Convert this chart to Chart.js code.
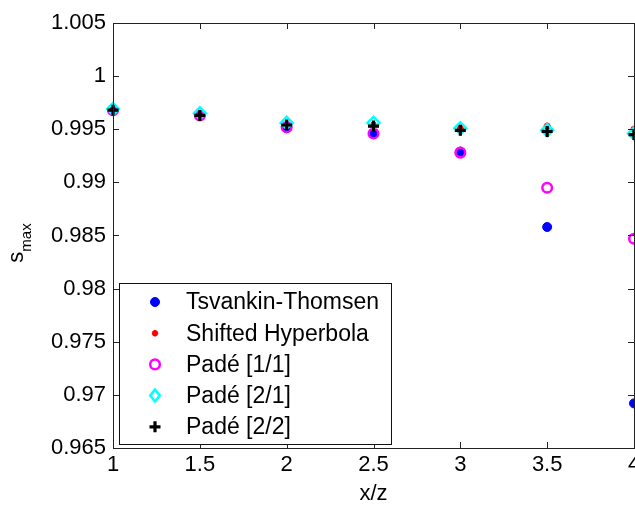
<!DOCTYPE html>
<html><head><meta charset="utf-8">
<script src="https://cdn.jsdelivr.net/npm/chart.js@4.4.1/dist/chart.umd.min.js"></script>
<style>html,body{margin:0;padding:0;background:#fff;overflow:hidden}</style>
</head><body>
<canvas id="c" width="635" height="509" style="display:block;width:635px;height:509px"></canvas>
<script>
// ---- data ----
const xValues = [1, 1.5, 2, 2.5, 3, 3.5, 4];
const tsvankinThomsen = [0.9968, 0.9963, 0.9951, 0.9946, 0.9929, 0.9858, 0.9692];
const shiftedHyperbola = [0.9968, 0.9964, 0.9954, 0.9954, 0.9951, 0.9953, 0.9950];
const pade11 = [0.9968, 0.9963, 0.9952, 0.9946, 0.9928, 0.9895, 0.9847];
const pade21 = [0.9969, 0.9965, 0.9956, 0.9956, 0.9951, 0.9949, 0.9946];
const pade22 = [0.9968, 0.9963, 0.9954, 0.9953, 0.9949, 0.9948, 0.9945];
const seriesLabels = ['Tsvankin-Thomsen', 'Shifted Hyperbola', 'Padé [1/1]', 'Padé [2/1]', 'Padé [2/2]'];
const xTickValues = [1, 1.5, 2, 2.5, 3, 3.5, 4];
const yTickValues = [0.965, 0.97, 0.975, 0.98, 0.985, 0.99, 0.995, 1, 1.005];
const xTitle = 'x/z';
const yTitleMain = 's';
const yTitleSub = 'max';

const FONT = "'Liberation Sans', Arial, Helvetica, sans-serif";
const pts = arr => arr.map((v, i) => ({x: xValues[i], y: v}));

const styles = [
  {pointStyle: 'circle', radius: 4.5, bg: '#0000ff', border: '#0000ff', bw: 1},
  {pointStyle: 'star', radius: 3.5, bg: '#ff0000', border: '#ff0000', bw: 2},
  {pointStyle: 'circle', radius: 4.8, bg: 'rgba(0,0,0,0)', border: '#ff00ff', bw: 2.5},
  {pointStyle: 'rectRot', radius: 6, bg: 'rgba(0,0,0,0)', border: '#00ffff', bw: 2.5},
  {pointStyle: 'cross', radius: 5.5, bg: '#000', border: '#000000', bw: 3.2}
];
const seriesData = [tsvankinThomsen, shiftedHyperbola, pade11, pade21, pade22];

const datasets = seriesData.map((d, i) => ({
  label: seriesLabels[i],
  data: pts(d),
  pointStyle: styles[i].pointStyle,
  pointRadius: styles[i].radius,
  pointHoverRadius: styles[i].radius,
  pointBackgroundColor: styles[i].bg,
  pointBorderColor: styles[i].border,
  pointBorderWidth: styles[i].bw,
  showLine: false,
  clip: false,
  order: 10 - i
}));

function drawMarker(ctx, st, x, y) {
  ctx.save();
  ctx.lineWidth = st.bw;
  ctx.strokeStyle = st.border;
  ctx.fillStyle = st.bg;
  const r = st.radius;
  ctx.beginPath();
  if (st.pointStyle === 'circle') {
    ctx.arc(x, y, r, 0, Math.PI * 2);
    ctx.fill(); ctx.stroke();
  } else if (st.pointStyle === 'rectRot') {
    ctx.moveTo(x, y - r); ctx.lineTo(x + r * 0.8, y); ctx.lineTo(x, y + r); ctx.lineTo(x - r * 0.8, y); ctx.closePath();
    ctx.stroke();
  } else if (st.pointStyle === 'cross') {
    ctx.moveTo(x - r, y); ctx.lineTo(x + r, y); ctx.moveTo(x, y - r); ctx.lineTo(x, y + r);
    ctx.stroke();
  } else if (st.pointStyle === 'star') {
    ctx.moveTo(x - r, y); ctx.lineTo(x + r, y); ctx.moveTo(x, y - r); ctx.lineTo(x, y + r);
    const d = r * 0.707;
    ctx.moveTo(x - d, y - d); ctx.lineTo(x + d, y + d); ctx.moveTo(x - d, y + d); ctx.lineTo(x + d, y - d);
    ctx.stroke();
  }
  ctx.restore();
}

const framePlugin = {
  id: 'frame',
  afterDraw(chart) {
    const ctx = chart.ctx;
    const a = chart.chartArea;
    const xs = chart.scales.x, ys = chart.scales.y;
    ctx.save();
    ctx.strokeStyle = '#222';
    ctx.lineWidth = 1;
    // box
    ctx.strokeRect(Math.round(a.left) + 0.5, Math.round(a.top) + 0.5, Math.round(a.right - a.left), Math.round(a.bottom - a.top));
    // inward ticks
    const tl = 6;
    ctx.beginPath();
    xTickValues.forEach(v => {
      const px = Math.round(xs.getPixelForValue(v)) + 0.5;
      ctx.moveTo(px, a.bottom); ctx.lineTo(px, a.bottom - tl);
      ctx.moveTo(px, a.top); ctx.lineTo(px, a.top + tl);
    });
    yTickValues.forEach(v => {
      const py = Math.round(ys.getPixelForValue(v)) + 0.5;
      ctx.moveTo(a.left, py); ctx.lineTo(a.left + tl, py);
      ctx.moveTo(a.right, py); ctx.lineTo(a.right - tl, py);
    });
    ctx.stroke();

    // axis titles
    ctx.fillStyle = '#000';
    ctx.font = '22px ' + FONT;
    ctx.textAlign = 'center';
    ctx.textBaseline = 'alphabetic';
    ctx.fillText(xTitle, (a.left + a.right) / 2, 500);

    ctx.save();
    ctx.translate(27, 243);
    ctx.rotate(-Math.PI / 2);
    ctx.textAlign = 'left';
    ctx.font = '22px ' + FONT;
    const wS = ctx.measureText(yTitleMain).width;
    ctx.font = '15px ' + FONT;
    const wSub = ctx.measureText(yTitleSub).width;
    const x0 = -(wS + wSub) / 2;
    ctx.font = '22px ' + FONT;
    ctx.fillText(yTitleMain, x0, -4);
    ctx.font = '15px ' + FONT;
    ctx.fillText(yTitleSub, x0 + wS, 4);
    ctx.restore();

    // legend
    const lx = 119, ly = 283, lw = 272, lh = 161;
    ctx.fillStyle = '#fff';
    ctx.fillRect(lx, ly, lw, lh);
    ctx.strokeStyle = '#111';
    ctx.lineWidth = 1;
    ctx.strokeRect(lx + 0.5, ly + 0.5, lw, lh);
    ctx.font = '23px ' + FONT;
    ctx.textAlign = 'left';
    ctx.textBaseline = 'middle';
    seriesLabels.forEach((lab, i) => {
      const cy = 302 + i * 31.2;
      const st = Object.assign({}, styles[i]);
      if (i === 1) st.radius = 3.2;
      drawMarker(ctx, st, 155, cy);
      ctx.fillStyle = '#000';
      ctx.fillText(lab, 186, cy + 1);
    });
    ctx.restore();
  }
};

new Chart(document.getElementById('c'), {
  type: 'scatter',
  data: {datasets},
  options: {
    responsive: false,
    animation: false,
    devicePixelRatio: 1,
    layout: {autoPadding: false, padding: {top: 23, right: 1, bottom: 0, left: 0}},
    plugins: {legend: {display: false}, tooltip: {enabled: false}},
    scales: {
      x: {
        type: 'linear', min: 1, max: 4,
        grid: {display: false, drawTicks: false},
        border: {display: false},
        afterBuildTicks: s => { s.ticks = xTickValues.map(v => ({value: v})); },
        afterFit: s => { s.height = 61; s.paddingLeft = 0; s.paddingRight = 0; },
        ticks: {color: '#000', font: {family: FONT, size: 22}, padding: 4, maxRotation: 0,
          callback: v => String(v)}
      },
      y: {
        type: 'linear', min: 0.965, max: 1.005,
        grid: {display: false, drawTicks: false},
        border: {display: false},
        afterBuildTicks: s => { s.ticks = yTickValues.map(v => ({value: v})); },
        afterFit: s => { s.width = 113; s.paddingTop = 0; s.paddingBottom = 0; },
        ticks: {color: '#000', font: {family: FONT, size: 22}, padding: 7,
          callback: v => String(Number(v.toFixed(3)))}
      }
    }
  },
  plugins: [framePlugin]
});
</script>
</body></html>
